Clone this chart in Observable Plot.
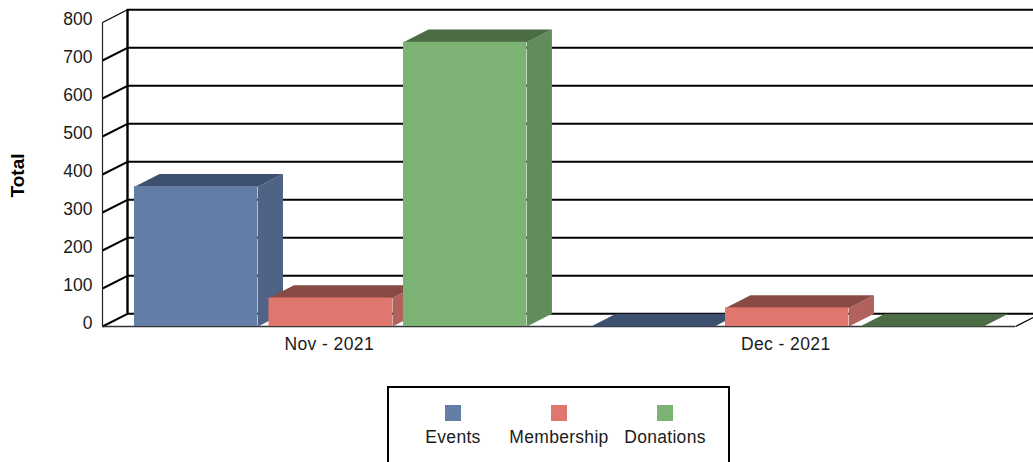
<!DOCTYPE html>
<html>
<head>
<meta charset="utf-8">
<script src="https://cdn.jsdelivr.net/npm/d3@7"></script>
<script src="https://cdn.jsdelivr.net/npm/@observablehq/plot@0.6"></script>
<style>
html,body{margin:0;padding:0;background:#fff;height:462px;overflow:hidden}
body{font-family:"Liberation Sans",Arial,sans-serif;color:#1a1a1a}
svg{display:block}
#legend{position:absolute;left:387px;top:386px;width:339px;height:100px;border:2px solid #000;background:#fff}
.item{position:absolute;top:17px;width:120px;text-align:center;font-size:17.5px;letter-spacing:.3px}
.item i{display:block;width:16px;height:16px;margin:0 auto 6px}
.xlab{letter-spacing:.4px}
</style>
</head>
<body>
<div id="chart"></div>
<div id="legend"></div>
<script>
const categories = ["Nov - 2021", "Dec - 2021"];
const seriesNames = ["Events", "Membership", "Donations"];
const events = [368, 0];
const membership = [75, 49];
const donations = [748, 0];
const yTicks = [0, 100, 200, 300, 400, 500, 600, 700, 800];
const frontColors = ["#627da6", "#e0776f", "#7cb274"];
const topColors = ["#3e5070", "#884a45", "#4c6c46"];
const sideColors = ["#4f6484", "#b2625c", "#618d5b"];

const seriesValues = [events, membership, donations];

// Pseudo-3D depth expressed in scale units
const depthX = 25 / 456.5;
const depthY = 12.7 / 0.38;
const barStart = 0.0701;
const barStep = 0.2946;
const barWidth = 0.2705;
const xEnd = categories.length;

const marks = [];

// back wall gridlines
marks.push(Plot.ruleY(yTicks, {x1: depthX, x2: xEnd + depthX, y: d => d + depthY, stroke: "#000", strokeWidth: 2}));
// side wall diagonals
marks.push(Plot.link(yTicks, {x1: 0, y1: d => d, x2: depthX, y2: d => d + depthY, stroke: "#000", strokeWidth: d => d === 800 ? 1.2 : 2}));
// front and back verticals
marks.push(Plot.ruleX([0], {y1: 0, y2: 800, stroke: "#222", strokeWidth: 1.2}));
marks.push(Plot.ruleX([depthX], {y1: depthY, y2: 800 + depthY, stroke: "#000", strokeWidth: 2.4}));
// floor front edge and right diagonal
marks.push(Plot.ruleY([0], {x1: 0, x2: xEnd, stroke: "#333", strokeWidth: 1.4}));
marks.push(Plot.link([0], {x1: xEnd, y1: 0, x2: xEnd + depthX, y2: depthY, stroke: "#000", strokeWidth: 1.2}));

// bars
seriesValues.forEach((vals, s) => {
  vals.forEach((v, c) => {
    const x0 = c + barStart + s * barStep;
    const x1 = x0 + barWidth;
    const top = [
      {x: x0, y: v}, {x: x1, y: v}, {x: x1 + depthX, y: v + depthY}, {x: x0 + depthX, y: v + depthY}
    ];
    const side = [
      {x: x1, y: 0}, {x: x1 + depthX, y: depthY}, {x: x1 + depthX, y: v + depthY}, {x: x1, y: v}
    ];
    if (v > 0) marks.push(Plot.line(side, {x: "x", y: "y", fill: sideColors[s], stroke: null}));
    marks.push(Plot.line(top, {x: "x", y: "y", fill: topColors[s], stroke: null}));
    if (v > 0) marks.push(Plot.rect([v], {x1: x0, x2: x1, y1: 0, y2: d => d, fill: frontColors[s]}));
  });
});

// axes and labels
marks.push(Plot.axisY(yTicks, {tickSize: 0, tickPadding: 10, dy: -3.5, label: null, fontSize: 17.5, fill: "#1a1a1a"}));
marks.push(Plot.text(categories, {x: (d, i) => i + 0.5, y: 0, dy: 18, dx: -1.5, fontSize: 17.5, fill: "#1a1a1a", className: "xlab"}));
marks.push(Plot.text(["Total"], {frameAnchor: "left", textAnchor: "middle", dx: -84.5, dy: 1, rotate: -90, fontWeight: "bold", fontSize: 19, fill: "#000"}));

const chart = Plot.plot({
  width: 1033,
  height: 386,
  marginLeft: 102,
  marginRight: 18,
  marginTop: 22,
  marginBottom: 60,
  style: {fontFamily: '"Liberation Sans", Arial, sans-serif', background: "transparent"},
  x: {domain: [0, xEnd], axis: null},
  y: {domain: [0, 800], axis: null},
  marks
});
document.getElementById("chart").appendChild(chart);

const legend = document.getElementById("legend");
[64, 170, 276].forEach((center, i) => {
  const item = document.createElement("div");
  item.className = "item";
  item.style.left = (center - 60) + "px";
  const sw = document.createElement("i");
  sw.style.background = frontColors[i];
  item.appendChild(sw);
  item.appendChild(document.createTextNode(seriesNames[i]));
  legend.appendChild(item);
});
</script>
</body>
</html>
